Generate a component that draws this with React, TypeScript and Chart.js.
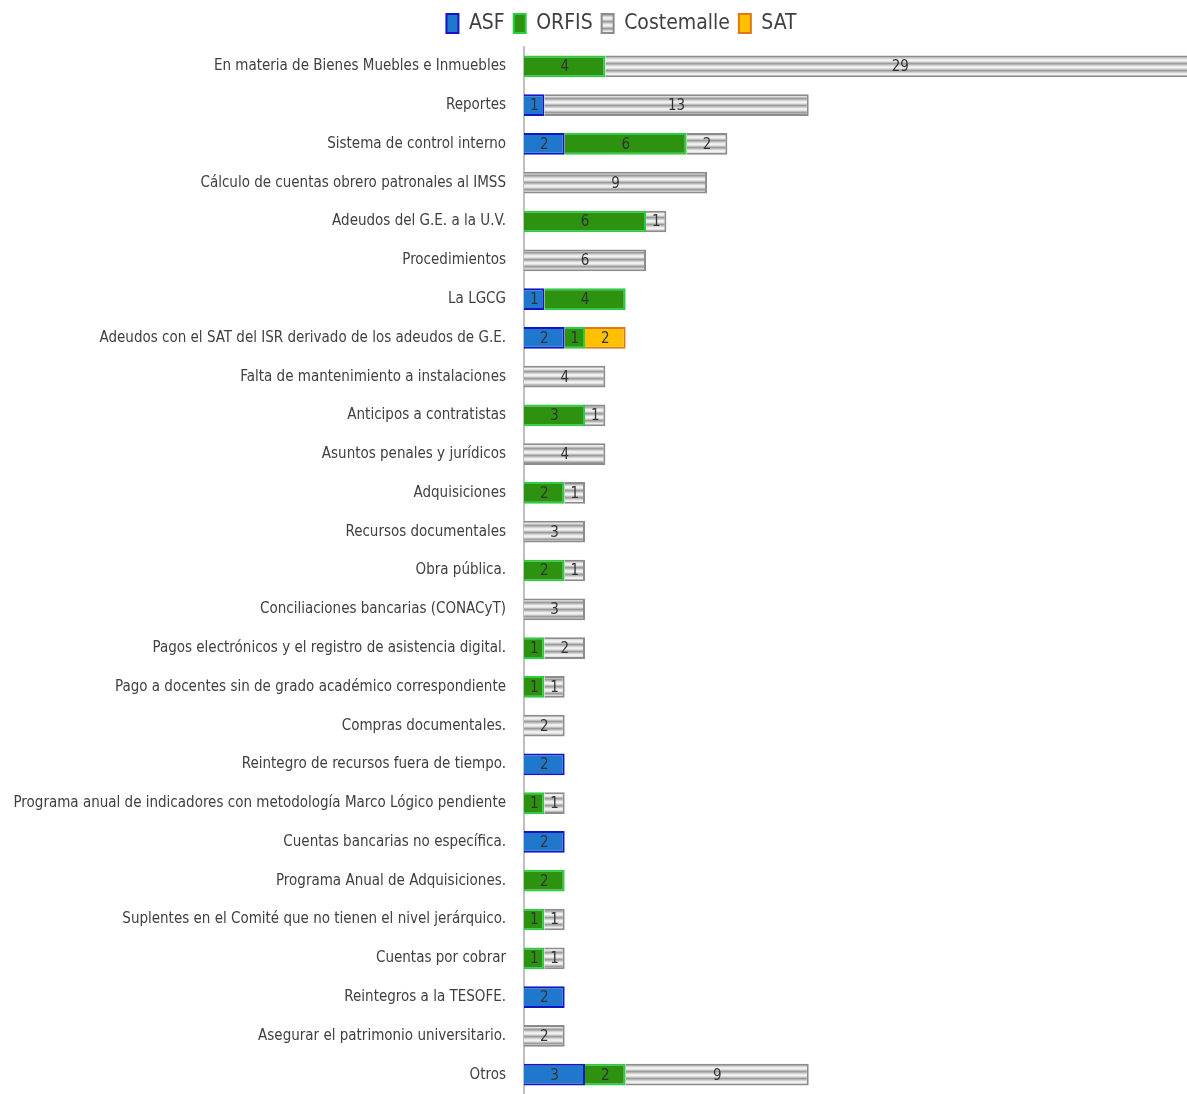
import React, { useEffect, useRef } from "react";
import { Chart, registerables } from "chart.js";

Chart.register(...registerables);

const categories: string[] = [
  "En materia de Bienes Muebles e Inmuebles",
  "Reportes",
  "Sistema de control interno",
  "Cálculo de cuentas obrero patronales al IMSS",
  "Adeudos del G.E. a la U.V.",
  "Procedimientos",
  "La LGCG",
  "Adeudos con el SAT del ISR derivado de los adeudos de G.E.",
  "Falta de mantenimiento a instalaciones",
  "Anticipos a contratistas",
  "Asuntos penales y jurídicos",
  "Adquisiciones",
  "Recursos documentales",
  "Obra pública.",
  "Conciliaciones bancarias (CONACyT)",
  "Pagos electrónicos y el registro de asistencia digital.",
  "Pago a docentes sin de grado académico correspondiente",
  "Compras documentales.",
  "Reintegro de recursos fuera de tiempo.",
  "Programa anual de indicadores con metodología Marco Lógico pendiente",
  "Cuentas bancarias no específica.",
  "Programa Anual de Adquisiciones.",
  "Suplentes en el Comité que no tienen el nivel jerárquico.",
  "Cuentas por cobrar",
  "Reintegros a la TESOFE.",
  "Asegurar el patrimonio universitario.",
  "Otros",
];

const asf: number[] = [0, 1, 2, 0, 0, 0, 1, 2, 0, 0, 0, 0, 0, 0, 0, 0, 0, 0, 2, 0, 2, 0, 0, 0, 2, 0, 3];
const orfis: number[] = [4, 0, 6, 0, 6, 0, 4, 1, 0, 3, 0, 2, 0, 2, 0, 1, 1, 0, 0, 1, 0, 2, 1, 1, 0, 0, 2];
const costemalle: number[] = [29, 13, 2, 9, 1, 6, 0, 0, 4, 1, 4, 1, 3, 1, 3, 2, 1, 2, 0, 1, 0, 0, 1, 1, 0, 2, 9];
const sat: number[] = [0, 0, 0, 0, 0, 0, 0, 2, 0, 0, 0, 0, 0, 0, 0, 0, 0, 0, 0, 0, 0, 0, 0, 0, 0, 0, 0];

const seriesNames = ["ASF", "ORFIS", "Costemalle", "SAT"];
const xMax = 32.6;

const FONT = "'DejaVu Sans Condensed', 'Liberation Sans Narrow', 'Noto Sans', sans-serif";

function makeStripePattern(): CanvasPattern | string {
  const c = document.createElement("canvas");
  c.width = 8;
  c.height = 7;
  const g = c.getContext("2d");
  if (!g) return "#cccccc";
  const rows = ["#9c9c9c", "#b4b4b4", "#d4d4d4", "#ececec", "#f2f2f2", "#e0e0e0", "#bdbdbd"];
  rows.forEach((col, i) => {
    g.fillStyle = col;
    g.fillRect(0, i, 8, 1);
  });
  const p = g.createPattern(c, "repeat");
  return p || "#cccccc";
}

const valueLabels = {
  id: "valueLabels",
  afterDatasetsDraw(chart: any) {
    const ctx = chart.ctx;
    ctx.save();
    ctx.font = `15px ${FONT}`;
    ctx.fillStyle = "#333333";
    ctx.textAlign = "center";
    ctx.textBaseline = "middle";
    chart.data.datasets.forEach((ds: any, di: number) => {
      const meta = chart.getDatasetMeta(di);
      meta.data.forEach((el: any, i: number) => {
        const v = ds.data[i];
        if (!v) return;
        const x = (el.x + el.base) / 2;
        ctx.fillText(String(v), x, el.y + 1);
      });
    });
    ctx.restore();
  },
};

const legendShift = {
  id: "legendShift",
  afterLayout(chart: any) {
    const lg = chart.legend;
    if (lg) {
      lg.left += 28;
      lg.right += 28;
      lg.top -= 3;
      lg.bottom -= 3;
    }
  },
};

export default function App() {
  const ref = useRef<HTMLCanvasElement | null>(null);

  useEffect(() => {
    document.body.style.margin = "0";
    const canvas = ref.current;
    if (!canvas) return;
    const stripe = makeStripePattern();
    const chart = new Chart(canvas, {
      type: "bar",
      data: {
        labels: categories,
        datasets: [
          {
            label: seriesNames[0],
            data: asf,
            backgroundColor: "#2078cc",
            borderColor: "#1515c8",
            borderWidth: 2,
          },
          {
            label: seriesNames[1],
            data: orfis,
            backgroundColor: "#2c9210",
            borderColor: "#2ccc44",
            borderWidth: 2,
          },
          {
            label: seriesNames[2],
            data: costemalle,
            backgroundColor: stripe as any,
            borderColor: "#8c8c8c",
            borderWidth: 2,
          },
          {
            label: seriesNames[3],
            data: sat,
            backgroundColor: "#ffc000",
            borderColor: "#e07818",
            borderWidth: 2,
          },
        ],
      },
      options: {
        indexAxis: "y",
        responsive: false,
        animation: false,
        maintainAspectRatio: false,
        layout: { padding: { left: 0, top: 7, right: 0, bottom: -16 } },
        datasets: {
          bar: { barPercentage: 0.56, categoryPercentage: 1 },
        },
        scales: {
          x: {
            stacked: true,
            display: false,
            min: 0,
            max: xMax,
          },
          y: {
            stacked: true,
            grid: { display: false },
            border: { display: true, color: "#bfbfbf", width: 2 },
            ticks: {
              color: "#404040",
              font: { family: FONT, size: 15 },
              padding: 10,
              autoSkip: false,
            },
            afterFit: (scale: any) => {
              scale.width = 524;
              scale.paddingTop = 0;
              scale.paddingBottom = 0;
            },
          },
        },
        plugins: {
          legend: {
            position: "top",
            labels: {
              color: "#404040",
              font: { family: FONT, size: 21 },
              boxWidth: 12,
              boxHeight: 19,
              padding: 9,
            },
          },
          tooltip: { enabled: false },
        },
      } as any,
      plugins: [valueLabels, legendShift],
    });
    return () => chart.destroy();
  }, []);

  return (
    <div style={{ width: 1187, height: 1094, overflow: "hidden", background: "#fff" }}>
      <canvas ref={ref} width={1187} height={1094} />
    </div>
  );
}
